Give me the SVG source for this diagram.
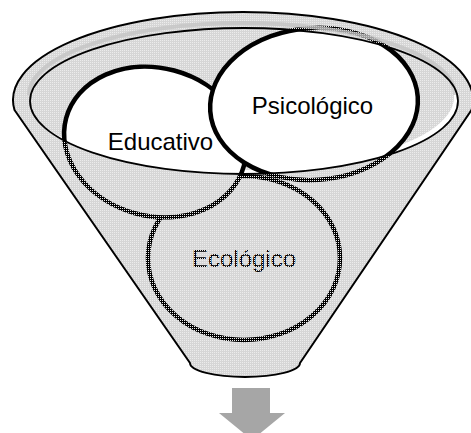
<svg xmlns="http://www.w3.org/2000/svg" width="471" height="433" viewBox="0 0 471 433">
  <defs>
    <pattern id="dots" width="2" height="2" patternUnits="userSpaceOnUse">
      <rect x="0" y="0" width="2" height="2" fill="#000" fill-opacity="0.16"/>
      <rect x="0" y="0" width="1" height="1" fill="#ececec"/>
    </pattern>
    <clipPath id="rim">
      <ellipse cx="244" cy="101" rx="214" ry="73"/>
    </clipPath>
    <style>
      .lbl { font-family: "Liberation Sans", Arial, sans-serif; font-size: 24px; fill: #000; text-anchor: middle; }
      .circ { fill: #fff; stroke: #000; stroke-width: 4.5; }
      .edge { fill: none; stroke: #000; stroke-width: 2; stroke-linejoin: round; }
    </style>
  </defs>
  <rect width="471" height="433" fill="#fff"/>

  <!-- funnel back -->
  <g id="funnel-back">
    <path d="M 14.5 110 A 230 88 0 1 1 471.5 110 L 300 363 A 55 14 0 0 1 190 363 Z" fill="#fff"/>
    <ellipse cx="240" cy="97" rx="214" ry="73" fill="url(#dots)" clip-path="url(#rim)"/>
  </g>

  <g id="node-ecologico">
    <ellipse class="circ" cx="244" cy="258" rx="96" ry="82"/>
    <text class="lbl" x="244" y="267">Ecológico</text>
  </g>
  <g id="node-educativo">
    <ellipse class="circ" cx="155" cy="142" rx="92" ry="74" transform="rotate(15 155 142)"/>
    <text class="lbl" x="160.5" y="150">Educativo</text>
  </g>
  <g id="node-psicologico">
    <ellipse class="circ" cx="314" cy="104" rx="104" ry="76" transform="rotate(-4 314 104)"/>
    <text class="lbl" x="312.5" y="114">Psicológico</text>
  </g>

  <!-- funnel front -->
  <g id="funnel-front">
    <path d="M 14.5 110 A 230 88 0 1 1 471.5 110 L 300 363 A 55 14 0 0 1 190 363 Z M 30 101 A 214 73 0 1 0 458 101 A 214 73 0 1 0 30 101 Z" fill="url(#dots)" fill-rule="evenodd"/>
    <path d="M 30 98 A 213 72 0 0 1 456 98" fill="none" stroke="#c4c4c4" stroke-width="4" opacity="0.8" transform="translate(-1 -3)"/>
    <path class="edge" d="M 14.5 110 A 230 88 0 1 1 471.5 110 L 300 363 A 55 14 0 0 1 190 363 Z"/>
    <ellipse cx="244" cy="101" rx="214" ry="73" fill="none" stroke="#000" stroke-width="1.8"/>
  </g>

  <g id="connectors">
    <polygon points="232,388 270,388 270,413 285,413 252,440 219,413 232,413" fill="#a6a6a6"/>
  </g>
</svg>
